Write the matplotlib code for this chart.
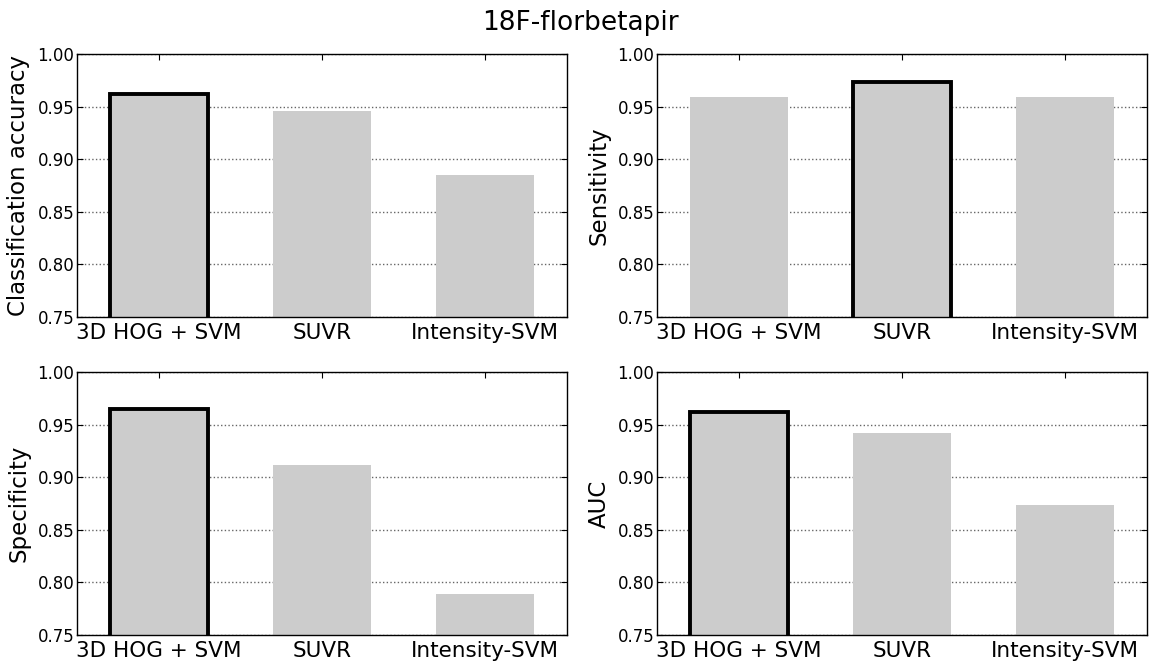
import matplotlib
matplotlib.use("Agg")
import matplotlib.pyplot as plt

# =====================================================================
# Data
# =====================================================================
METHODS = ["3D HOG + SVM", "SUVR", "Intensity-SVM"]

ACCURACY = [0.962, 0.946, 0.885]
SENSITIVITY = [0.959, 0.973, 0.959]
SPECIFICITY = [0.965, 0.912, 0.789]
AUC = [0.962, 0.942, 0.874]

PANELS = [
  ("Classification accuracy", ACCURACY),
  ("Sensitivity", SENSITIVITY),
  ("Specificity", SPECIFICITY),
  ("AUC", AUC),
]

# axes rectangles in figure fractions (left, bottom, width, height)
RECTS = [
  (0.0670, 0.5233, 0.4265, 0.3955),
  (0.5718, 0.5233, 0.4265, 0.3955),
  (0.0670, 0.0451, 0.4265, 0.3955),
  (0.5718, 0.0451, 0.4265, 0.3955),
]

BAR_COLOR = "#cccccc"
YTICKS = [0.75, 0.80, 0.85, 0.90, 0.95, 1.00]

# =====================================================================
# Plot
# =====================================================================
fig = plt.figure(figsize=(11.49, 6.65), dpi=100)

for (label, values), rect in zip(PANELS, RECTS):
  ax = fig.add_axes(rect)
  best = values.index(max(values))
  x = list(range(len(METHODS)))
  bars = ax.bar(x, values, width=0.6, color=BAR_COLOR, edgecolor="none", zorder=2)
  bars[best].set_edgecolor("black")
  bars[best].set_linewidth(2.8)

  ax.set_xlim(-0.5, 2.5)
  ax.set_ylim(0.75, 1.0)
  ax.set_yticks(YTICKS)
  ax.set_yticklabels([f"{v:.2f}" for v in YTICKS])
  ax.set_xticks(x)
  ax.set_xticklabels(METHODS, fontsize=15.5)
  ax.tick_params(axis="y", labelsize=12, pad=2, direction="in", right=True, length=4)
  ax.tick_params(axis="x", pad=4, direction="in", top=True, length=4)
  ax.yaxis.grid(True, linestyle=":", color="0.4", linewidth=1.0, zorder=1)
  ax.set_axisbelow(True)
  ax.set_ylabel(label, fontsize=16.5, labelpad=5)
  for s in ax.spines.values():
    s.set_linewidth(1.0)
    s.set_zorder(3)

fig.suptitle("18F-florbetapir", fontsize=19, x=0.505, y=0.985)

plt.savefig("out.png", dpi=100)
plt.close()
